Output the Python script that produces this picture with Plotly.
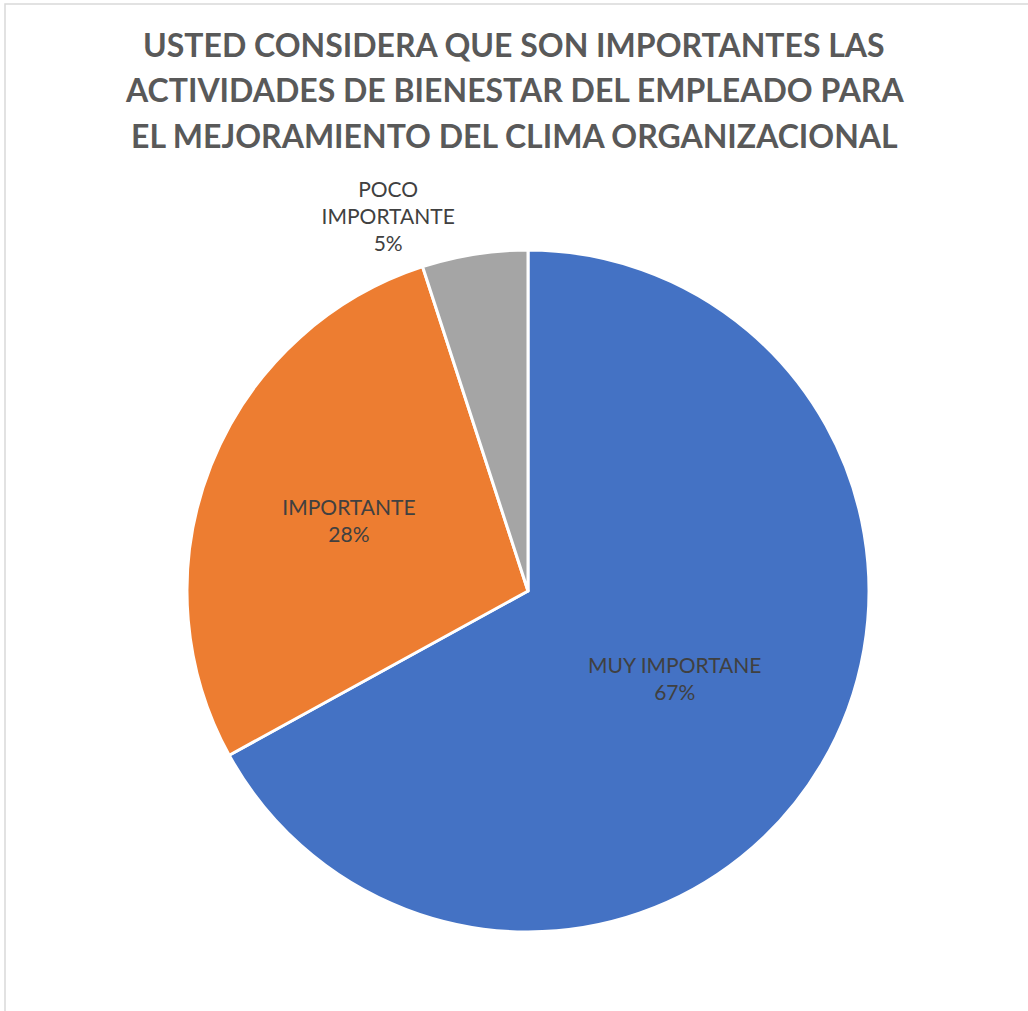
import plotly.graph_objects as go

# Data
labels = ["MUY IMPORTANE", "IMPORTANTE", "POCO IMPORTANTE"]
values = [67, 28, 5]
colors = ["#4472C4", "#ED7D31", "#A5A5A5"]
title_lines = [
    "USTED CONSIDERA QUE SON IMPORTANTES LAS",
    "ACTIVIDADES DE BIENESTAR DEL EMPLEADO PARA",
    "EL MEJORAMIENTO DEL CLIMA ORGANIZACIONAL",
]

W, H = 1028, 1011
cx, cy, r = 528, 591, 341
FONT = "Lato, Open Sans, sans-serif"

display_text = [lab.replace(" ", "<br>") if lab.startswith("POCO") else lab for lab in labels]

fig = go.Figure(go.Pie(
    labels=labels,
    values=values,
    text=display_text,
    texttemplate="%{text}<br>%{percent:.0%}",
    textposition=["inside", "inside", "outside"],
    insidetextorientation="horizontal",
    sort=False,
    direction="clockwise",
    rotation=0,
    marker=dict(colors=colors, line=dict(color="white", width=3)),
    textfont=dict(family=FONT, size=21, color="#404040"),
    outsidetextfont=dict(family=FONT, size=21, color="#404040"),
    showlegend=False,
    hoverinfo="label+percent",
    domain=dict(x=[(cx - r) / W, (cx + r) / W], y=[(H - cy - r) / H, (H - cy + r) / H]),
))

title_annotations = [
    dict(text=line, xref="paper", yref="paper", x=0.5, xanchor="center",
         y=1 - (45 + 45 * i) / H, yanchor="middle", showarrow=False,
         font=dict(family=FONT, size=32, color="#595959", weight="bold"))
    for i, line in enumerate(title_lines)
]

fig.update_layout(
    width=W, height=H,
    margin=dict(l=0, r=0, t=0, b=0),
    paper_bgcolor="white",
    annotations=title_annotations,
    shapes=[dict(type="rect", xref="paper", yref="paper",
                 x0=5 / W, x1=1.02, y0=-0.02, y1=1 - 4 / H,
                 line=dict(color="#D9D9D9", width=1.5))],
)

fig.write_html("out.html")
